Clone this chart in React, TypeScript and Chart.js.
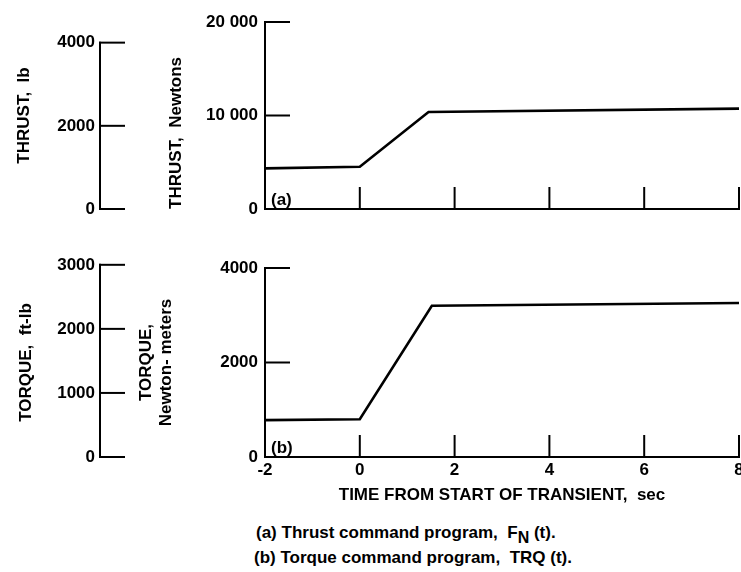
import React, { useEffect, useRef } from 'react';
import { Chart, registerables } from 'chart.js';

Chart.register(...registerables);

const FONT = "'Liberation Sans', Arial, sans-serif";

// ---- data ----
const timeTicks = [-2, 0, 2, 4, 6, 8];

const thrustTime = [-2, 0, 1.45, 8];
const thrustNewtons = [4350, 4520, 10370, 10730];
const thrustTicksN = [0, 10000, 20000];
const thrustTickLabelsN = ['0', '10 000', '20 000'];
const thrustTicksLb = [0, 2000, 4000];
const thrustTickLabelsLb = ['0', '2000', '4000'];

const torqueTime = [-2, 0, 1.52, 8];
const torqueNm = [780, 800, 3200, 3260];
const torqueTicksNm = [0, 2000, 4000];
const torqueTickLabelsNm = ['0', '2000', '4000'];
const torqueTicksFtLb = [0, 1000, 2000, 3000];
const torqueTickLabelsFtLb = ['0', '1000', '2000', '3000'];

const LB_TO_N = 4.44822;
const FTLB_TO_NM = 1.35582;

const BLACK = '#000';

const innerTicks = {
  id: 'innerTicks',
  afterDraw(chart: any, _args: any, opts: any) {
    const ctx = chart.ctx;
    const x = chart.scales.x;
    const yMain = chart.scales.y;
    const ySec = chart.scales.ySec;
    ctx.save();
    ctx.strokeStyle = BLACK;
    ctx.lineWidth = 2;
    ctx.lineCap = 'butt';
    x.ticks.forEach((t: any) => {
      if (t.value === x.min) return;
      const px = x.getPixelForValue(t.value);
      ctx.beginPath();
      ctx.moveTo(px, x.top);
      ctx.lineTo(px, x.top - opts.xLen);
      ctx.stroke();
    });
    [yMain, ySec].forEach((s: any) => {
      s.ticks.forEach((t: any) => {
        const py = s.getPixelForValue(t.value);
        ctx.beginPath();
        ctx.moveTo(s.right - 1, py);
        ctx.lineTo(s.right + opts.yLen, py);
        ctx.stroke();
      });
    });
    const topV = ySec.ticks[ySec.ticks.length - 1].value;
    ctx.beginPath();
    ctx.moveTo(ySec.right, ySec.getPixelForValue(topV) - 1);
    ctx.lineTo(ySec.right, ySec.getPixelForValue(0) + 1);
    ctx.stroke();
    ctx.fillStyle = BLACK;
    ctx.font = `bold 17px ${FONT}`;
    ctx.textBaseline = 'middle';
    ctx.textAlign = 'left';
    ctx.fillText(opts.tag, chart.chartArea.left + 6, chart.chartArea.bottom - 9);
    ctx.restore();
  },
};

function fixedTicks(values: number[]) {
  return (s: any) => {
    s.ticks = values.map((v) => ({ value: v }));
  };
}

function labelFrom(values: number[], labels: string[]) {
  return (v: any) => {
    const i = values.indexOf(Number(v));
    return i >= 0 ? labels[i] : '';
  };
}

const tickFont = { family: FONT, size: 17, weight: 'bold' };
const titleFont = { family: FONT, size: 17, weight: 'bold', lineHeight: 1.15 };

function makeConfig(p: {
  time: number[];
  values: number[];
  mainMax: number;
  mainTicks: number[];
  mainLabels: string[];
  secMax: number;
  secTicks: number[];
  secLabels: string[];
  mainTitle: string | string[];
  mainTitlePad: number;
  mainTitleAlign: string;
  secTitle: string;
  secTitlePad: number;
  showX: boolean;
  tag: string;
  padTop: number;
  padBottom: number;
  xHeight: number;
}): any {
  return {
    type: 'line',
    data: {
      datasets: [
        {
          data: p.time.map((t, i) => ({ x: t, y: p.values[i] })),
          borderColor: BLACK,
          borderWidth: 2.6,
          pointRadius: 0,
          tension: 0,
          fill: false,
        },
      ],
    },
    options: {
      animation: false,
      responsive: false,
      maintainAspectRatio: false,
      layout: { padding: { top: p.padTop, bottom: p.padBottom, left: 0, right: 21 } },
      plugins: {
        legend: { display: false },
        tooltip: { enabled: false },
        innerTicks: { xLen: 22, yLen: 25, tag: p.tag },
      },
      scales: {
        x: {
          type: 'linear',
          min: -2,
          max: 8,
          afterBuildTicks: fixedTicks(timeTicks),
          ticks: { display: p.showX, color: BLACK, font: tickFont, padding: 3, maxRotation: 0 },
          grid: { display: false, drawTicks: false },
          border: { display: true, color: BLACK, width: 2 },
          title: {
            display: p.showX,
            text: 'TIME FROM START OF TRANSIENT,  sec',
            color: BLACK,
            font: titleFont,
            padding: { top: 0, bottom: 2 },
          },
          afterFit: (s: any) => {
            s.height = p.xHeight;
          },
        },
        y: {
          type: 'linear',
          position: 'left',
          weight: 0,
          min: 0,
          max: p.mainMax,
          afterBuildTicks: fixedTicks(p.mainTicks),
          ticks: { color: BLACK, font: tickFont, padding: 7, callback: labelFrom(p.mainTicks, p.mainLabels) },
          grid: { display: false, drawTicks: false },
          border: { display: true, color: BLACK, width: 2 },
          title: {
            display: true,
            text: p.mainTitle,
            align: p.mainTitleAlign,
            color: BLACK,
            font: titleFont,
            padding: { top: p.mainTitlePad, bottom: 0 },
          },
          afterFit: (s: any) => {
            s.width = 165;
          },
        },
        ySec: {
          type: 'linear',
          position: 'left',
          weight: 1,
          min: 0,
          max: p.secMax,
          afterBuildTicks: fixedTicks(p.secTicks),
          ticks: { color: BLACK, font: tickFont, padding: 5, callback: labelFrom(p.secTicks, p.secLabels) },
          grid: { display: false, drawTicks: false },
          border: { display: false },
          title: {
            display: true,
            text: p.secTitle,
            color: BLACK,
            font: titleFont,
            padding: { top: p.secTitlePad, bottom: 0 },
          },
          afterFit: (s: any) => {
            s.width = 100;
          },
        },
      },
    },
    plugins: [innerTicks],
  };
}

export default function App() {
  const topRef = useRef<HTMLCanvasElement>(null);
  const botRef = useRef<HTMLCanvasElement>(null);

  useEffect(() => {
    const top = new Chart(
      topRef.current as HTMLCanvasElement,
      makeConfig({
        time: thrustTime,
        values: thrustNewtons,
        mainMax: 20000,
        mainTicks: thrustTicksN,
        mainLabels: thrustTickLabelsN,
        secMax: 20000 / LB_TO_N,
        secTicks: thrustTicksLb,
        secLabels: thrustTickLabelsLb,
        mainTitle: 'THRUST,  Newtons',
        mainTitlePad: 67,
        mainTitleAlign: 'start',
        secTitle: 'THRUST,  lb',
        secTitlePad: 15,
        showX: false,
        tag: '(a)',
        padTop: 22,
        padBottom: 26,
        xHeight: 0,
      })
    );
    const bot = new Chart(
      botRef.current as HTMLCanvasElement,
      makeConfig({
        time: torqueTime,
        values: torqueNm,
        mainMax: 4000,
        mainTicks: torqueTicksNm,
        mainLabels: torqueTickLabelsNm,
        secMax: 4000 / FTLB_TO_NM,
        secTicks: torqueTicksFtLb,
        secLabels: torqueTickLabelsFtLb,
        mainTitle: ['TORQUE,', 'Newton- meters'],
        mainTitlePad: 37,
        mainTitleAlign: 'center',
        secTitle: 'TORQUE,  ft-lb',
        secTitlePad: 17,
        showX: true,
        tag: '(b)',
        padTop: 33,
        padBottom: 0,
        xHeight: 50,
      })
    );
    return () => {
      top.destroy();
      bot.destroy();
    };
  }, []);

  const captionStyle: React.CSSProperties = {
    position: 'absolute',
    left: 256,
    fontFamily: FONT,
    fontWeight: 'bold',
    fontSize: 17,
    lineHeight: '20px',
    color: BLACK,
    whiteSpace: 'nowrap',
  };

  return (
    <div
      style={{
        position: 'absolute',
        left: 0,
        top: 0,
        width: 741,
        height: 572,
        overflow: 'hidden',
        background: '#fff',
      }}
    >
      <canvas
        ref={topRef}
        width={760}
        height={235}
        style={{ position: 'absolute', left: 0, top: 0, width: 760, height: 235 }}
      />
      <canvas
        ref={botRef}
        width={760}
        height={272}
        style={{ position: 'absolute', left: 0, top: 235, width: 760, height: 272 }}
      />
      <div style={{ ...captionStyle, top: 523 }}>
        (a) Thrust command program,&nbsp; F
        <sub style={{ fontSize: 16, verticalAlign: '-5px', lineHeight: 0 }}>N</sub> (t).
      </div>
      <div style={{ ...captionStyle, top: 548, left: 254 }}>(b) Torque command program,&nbsp; TRQ (t).</div>
    </div>
  );
}
